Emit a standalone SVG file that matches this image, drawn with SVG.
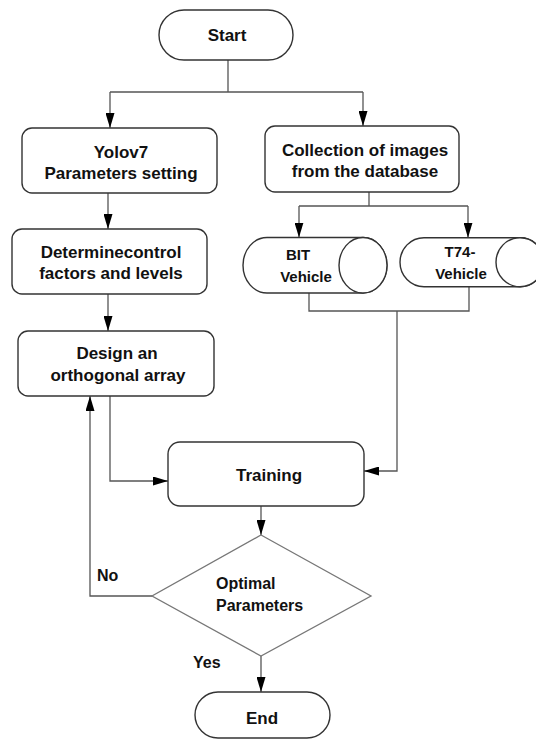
<svg xmlns="http://www.w3.org/2000/svg" width="536" height="739" viewBox="0 0 536 739">
<defs>
<marker id="arr" viewBox="0 0 15 9" refX="15" refY="4.5" markerWidth="15" markerHeight="9" markerUnits="userSpaceOnUse" orient="auto">
<path d="M0,0 L15,4.5 L0,9 Z" fill="#000"/>
</marker>
<style>
.box{fill:#fff;stroke:#333;stroke-width:1.4}
.dia{fill:#fff;stroke:#777;stroke-width:1.3}
.ln{fill:none;stroke:#555;stroke-width:1.3}
.t{font-family:"Liberation Sans",Arial,sans-serif;font-weight:bold;font-size:17px;fill:#111;text-anchor:middle}
.s{font-family:"Liberation Sans",Arial,sans-serif;font-weight:bold;font-size:15px;fill:#111;text-anchor:middle}
.l{font-family:"Liberation Sans",Arial,sans-serif;font-weight:bold;font-size:16px;fill:#111}
</style>
</defs>
<rect width="536" height="739" fill="#fff"/>

<g id="connectors">
<path class="ln" d="M228,60 V92 M110,92 H363"/>
<path class="ln" d="M110,92 V128" marker-end="url(#arr)"/>
<path class="ln" d="M363,92 V126" marker-end="url(#arr)"/>
<path class="ln" d="M108,193 V229" marker-end="url(#arr)"/>
<path class="ln" d="M108,294 V331" marker-end="url(#arr)"/>
<path class="ln" d="M369,192 V206 M299,206 H468"/>
<path class="ln" d="M299,206 V237.5" marker-end="url(#arr)"/>
<path class="ln" d="M468,206 V237.7" marker-end="url(#arr)"/>
<path class="ln" d="M309,293 V311 H469 V286.7"/>
<path class="ln" d="M397,311 V471 H364" marker-end="url(#arr)"/>
<path class="ln" d="M110,396 V481 H168" marker-end="url(#arr)"/>
<path class="ln" d="M261,506 V535" marker-end="url(#arr)"/>
<path class="ln" d="M152,596 H90 V396" marker-end="url(#arr)"/>
<path class="ln" d="M261,656 V692" marker-end="url(#arr)"/>
</g>

<g id="start">
<rect class="box" x="159" y="10" width="134" height="50" rx="25"/>
<text class="t" x="227" y="41">Start</text>
</g>

<g id="yolov7">
<rect class="box" x="22" y="128" width="195" height="65" rx="10"/>
<text class="t" x="121" y="158">Yolov7</text>
<text class="t" x="121" y="179">Parameters setting</text>
</g>

<g id="collection">
<rect class="box" x="265" y="126" width="194" height="66" rx="10"/>
<text class="t" x="365" y="156">Collection of images</text>
<text class="t" x="365" y="177">from the database</text>
</g>

<g id="determine">
<rect class="box" x="12" y="229" width="195" height="65" rx="10"/>
<text class="t" x="111" y="258">Determinecontrol</text>
<text class="t" x="111" y="279">factors and levels</text>
</g>

<g id="design">
<rect class="box" x="18" y="331" width="196" height="65" rx="10"/>
<text class="t" x="117" y="359">Design an</text>
<text class="t" x="118" y="381">orthogonal array</text>
</g>

<g id="bit">
<path class="box" d="M267,237.5 H363 A24,27.75 0 0 1 363,293 H267 A24,27.75 0 0 1 267,237.5 Z"/>
<ellipse class="box" cx="363" cy="265.25" rx="24" ry="27.75"/>
<text class="s" x="298" y="260">BIT</text>
<text class="s" x="306" y="282">Vehicle</text>
</g>

<g id="t74">
<path class="box" d="M424,237.7 H520 A24,24.5 0 0 1 520,286.7 H424 A24,24.5 0 0 1 424,237.7 Z"/>
<ellipse class="box" cx="520" cy="262.2" rx="24" ry="24.5"/>
<text class="s" x="460" y="257">T74-</text>
<text class="s" x="461" y="279">Vehicle</text>
</g>

<g id="training">
<rect class="box" x="168" y="442" width="196" height="64" rx="12"/>
<text class="t" x="269" y="481">Training</text>
</g>

<g id="decision">
<polygon class="dia" points="261,535 371,596 261,656 152,596"/>
<text class="l" x="216" y="589">Optimal</text>
<text class="l" x="216" y="611">Parameters</text>
</g>

<g id="labels">
<text class="l" x="97" y="581">No</text>
<text class="l" x="193" y="668">Yes</text>
</g>

<g id="end">
<rect class="box" x="195" y="692" width="135" height="46" rx="23"/>
<text class="t" x="262" y="724">End</text>
</g>
</svg>
